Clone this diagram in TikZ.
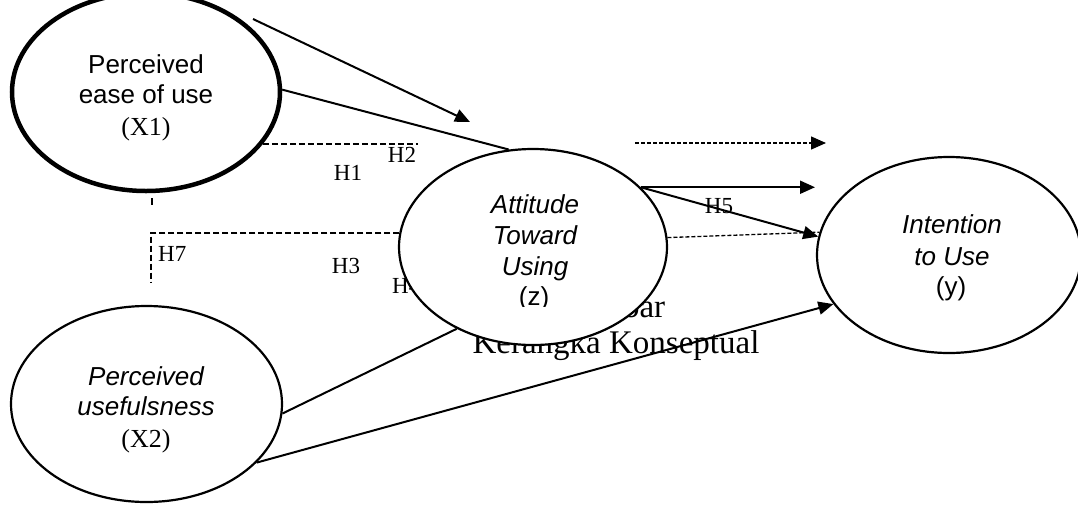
\documentclass[tikz,border=0pt]{standalone}
\usepackage{fontspec}
\setmainfont{Liberation Serif}
\newfontfamily\arialf{Liberation Sans}
\usetikzlibrary{shapes.geometric,arrows.meta}
\begin{document}
\begin{tikzpicture}[x=1pt,y=-1pt,
  ell/.style={ellipse,draw,line width=2.2pt,fill=white,inner sep=0pt},
  txs/.style={font=\arialf\fontsize{26}{31}\selectfont,anchor=base,inner sep=0pt},
  txi/.style={font=\arialf\itshape\fontsize{26}{31}\selectfont,anchor=base,inner sep=0pt},
  txt/.style={font=\fontsize{26}{31}\selectfont,anchor=base,inner sep=0pt},
  hlab/.style={font=\fontsize{23}{27}\selectfont,anchor=base,inner sep=0pt},
  captxt/.style={font=\fontsize{33}{38}\selectfont,anchor=base,inner sep=0pt},
  conn/.style={line width=2pt},
  arr/.style={line width=2pt,-{Triangle[length=15pt,width=13pt]}},
  dashA/.style={line width=2pt,dash pattern=on 6pt off 3pt},
  dashB/.style={line width=1.3pt,dash pattern=on 4pt off 2pt}]
\useasboundingbox (0,0) rectangle (1078,504);

% caption (partly hidden behind the ellipse)
\node[captxt] (cap1) at (612,317) {Gambar};
\node[captxt] (cap2) at (616,353) {Kerangka Konseptual};

% hypothesis labels
\node[hlab] (h1) at (348,180) {H1};
\node[hlab] (h2) at (402,162) {H2};
\node[hlab] (h3) at (346,273) {H3};
\node[hlab,anchor=base west] (h4) at (392,293) {H4};
\node[hlab] (h5) at (719,213) {H5};
\node[hlab,anchor=base west] (h7) at (158,261) {H7};

% ellipses
\node[ell,line width=4.5pt,minimum width=268pt,minimum height=198pt] (x1) at (146,92) {};
\node[ell,minimum width=271pt,minimum height=196pt] (x2) at (146.5,404) {};
\node[ell,minimum width=264pt,minimum height=196pt] (y) at (949,255) {};
\node[ell,minimum width=268pt,minimum height=196pt] (z) at (533,247) {};

% free coordinates
\coordinate (a0) at (253,19);
\coordinate (a1) at (470,122);
\coordinate (c1) at (418,143);
\coordinate (t1) at (152,198);
\coordinate (t2) at (152,205);
\coordinate (c2) at (151,283);
\coordinate (d0) at (635,143);
\coordinate (d1) at (826,143);
\coordinate (s1) at (815,187);

% connectors
\draw[arr] (a0) -- (a1);
\draw[conn] (x1.1) -- (z.104);
\draw[dashA] (x1.-24) -- (x1.-24 -| c1);
\draw[line width=2pt] (t1) -- (t2);
\draw[dashA] (z.174) -- (z.174 -| c2) -- (c2);
\draw[conn] (x2.-4) -- (z.227);
\draw[arr] (x2.-28) -- (y.203);
\draw[dashB,-{Triangle[length=15pt,width=13pt]}] (d0) -- (d1);
\draw[arr] (z.29) -- (z.29 -| s1);
\draw[arr] (z.29) -- (y.172);
\draw[dashB] (z.4.6) -- (y.170.6);

% texts
\node[txs] (x1a) at (146,73) {Perceived};
\node[txs] (x1b) at (146,103) {ease of use};
\node[txt] (x1c) at (146,135) {(X1)};

\node[txi] (x2a) at (146,385) {Perceived};
\node[txi] (x2b) at (146,415) {usefulsness};
\node[txt] (x2c) at (146,447) {(X2)};

\node[txi] (za) at (535,213) {Attitude};
\node[txi] (zb) at (535,244) {Toward};
\node[txi] (zc) at (535,275) {Using};
\begin{scope}
  \clip (480,280) rectangle (600,306);
  \node[txs] (zd) at (534,305) {(z)};
\end{scope}

\node[txi] (ya) at (952,233) {Intention};
\node[txi] (yb) at (952,265) {to Use};
\node[txs] (yc) at (951,295) {(y)};
\end{tikzpicture}
\end{document}
